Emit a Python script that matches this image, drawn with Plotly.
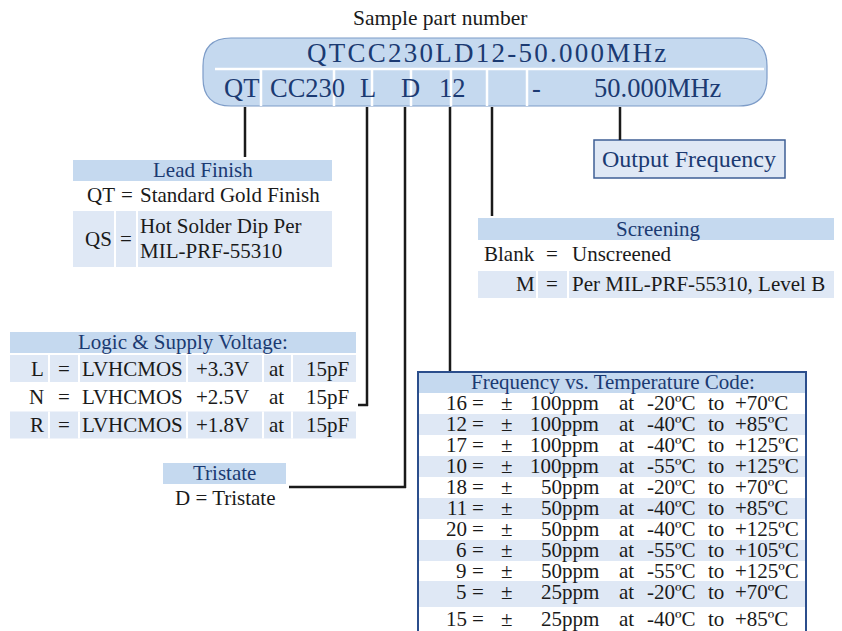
import plotly.graph_objects as go

# ---------------- data (texts) ----------------
title_text = "Sample part number"
part_number = "QTCC230LD12-50.000MHz"
part_segments = ["QT", "CC230", "L", "D", "12", "", "-", "50.000MHz"]
part_seg_x = [241, 307, 368, 410, 452, 0, 536, 658]

lead_codes = ["QT", "QS"]
lead_desc = [["Standard Gold Finish"], ["Hot Solder Dip Per", "MIL-PRF-55310"]]

screen_codes = ["Blank", "M"]
screen_desc = ["Unscreened", "Per MIL-PRF-55310, Level B"]

logic_codes = ["L", "N", "R"]
logic_type = ["LVHCMOS", "LVHCMOS", "LVHCMOS"]
logic_volt = ["+3.3V", "+2.5V", "+1.8V"]
logic_load = ["15pF", "15pF", "15pF"]

tri_codes = ["D"]
tri_desc = ["Tristate"]

freq_codes = ["16", "12", "17", "10", "18", "11", "20", "6", "9", "5", "15"]
freq_ppm = ["100ppm", "100ppm", "100ppm", "100ppm", "50ppm", "50ppm", "50ppm",
            "50ppm", "50ppm", "25ppm", "25ppm"]
freq_tmin = ["-20ºC", "-40ºC", "-40ºC", "-55ºC", "-20ºC", "-40ºC", "-40ºC",
             "-55ºC", "-55ºC", "-20ºC", "-40ºC"]
freq_tmax = ["+70ºC", "+85ºC", "+125ºC", "+125ºC", "+70ºC", "+85ºC", "+125ºC",
             "+105ºC", "+125ºC", "+70ºC", "+85ºC"]

# ---------------- style ----------------
FONT = "Liberation Serif, Times New Roman, serif"
NAVY = "#1b3a72"
INK = "#1a1a1a"
HEAD = "#c5d9ef"
ROW = "#dfe8f5"
W, H = 842, 631
OFF = 8  # page body margin compensation

shapes = []
ann = []


def rect(x0, y0, x1, y1, fill, line=None, lw=0, layer="below"):
    shapes.append(dict(type="rect", x0=x0, y0=y0, x1=x1, y1=y1, fillcolor=fill,
                       line=dict(color=line or fill, width=lw), layer=layer))


def seg(x0, y0, x1, y1, color=INK, width=2.5):
    shapes.append(dict(type="line", x0=x0, y0=y0, x1=x1, y1=y1,
                       line=dict(color=color, width=width), layer="above"))


def txt(x, y, s, size=21, color=INK, anchor="center"):
    ann.append(dict(x=x, y=y, text=s, showarrow=False, xanchor=anchor, yanchor="middle",
                    font=dict(family=FONT, size=size, color=color)))


# ---------------- top box ----------------
txt(440, 18, title_text, size=21.5)
x0, x1, y0, y1, r = 203, 767, 38, 106, 28
path = (f"M {x0+r},{y0} L {x1-r},{y0} Q {x1},{y0} {x1},{y0+r} L {x1},{y1-r} "
        f"Q {x1},{y1} {x1-r},{y1} L {x0+r},{y1} Q {x0},{y1} {x0},{y1-r} "
        f"L {x0},{y0+r} Q {x0},{y0} {x0+r},{y0} Z")
shapes.append(dict(type="path", path=path, fillcolor=HEAD,
                   line=dict(color="#7d9cc8", width=1.2), layer="below"))
spaced = "\u200a".join(part_number)
txt(486, 53, spaced, size=27, color=NAVY)
seg(215, 69, 764, 69, color="white", width=2.5)
for xs in [261, 334, 372, 411, 451, 487, 527]:
    seg(xs, 69, xs, 106, color="white", width=2.5)
for s, xs in zip(part_segments, part_seg_x):
    if s:
        txt(xs, 88, s, size=26.5, color=NAVY)

# ---------------- connectors ----------------
seg(245, 107, 245, 157)
seg(367, 107, 367, 406)
seg(358, 405, 368, 405)
seg(405, 107, 405, 488)
seg(289, 487, 406, 487)
seg(450, 107, 450, 372)
seg(492, 107, 492, 216)
seg(620, 107, 620, 140)

# ---------------- output frequency ----------------
rect(594, 140, 785, 178, ROW, line="#3f5f95", lw=1.5)
txt(689, 159, "Output Frequency", size=24, color=NAVY)

# ---------------- lead finish ----------------
rect(73, 160, 332, 181, HEAD)
txt(203, 170, "Lead Finish", color=NAVY)
txt(117, 195, lead_codes[0], anchor="right")
txt(127, 195, "=")
txt(138, 195, lead_desc[0][0], anchor="left")
rect(73, 211, 332, 267, ROW)
seg(115, 211, 115, 267, color="white", width=2)
seg(137, 211, 137, 267, color="white", width=2)
txt(114, 239, lead_codes[1], anchor="right")
txt(126, 239, "=")
txt(138, 226, lead_desc[1][0], anchor="left")
txt(138, 251, lead_desc[1][1], anchor="left")

# ---------------- screening ----------------
rect(478, 218, 838, 240, HEAD)
txt(658, 229, "Screening", color=NAVY)
for i, (c, d) in enumerate(zip(screen_codes, screen_desc)):
    yc = 254 + i * 30
    if i == 1:
        rect(478, 271, 838, 298, ROW)
        seg(537, 271, 537, 298, color="white", width=2)
        seg(568, 271, 568, 298, color="white", width=2)
    txt(537, yc, c, anchor="right")
    txt(552, yc, "=")
    txt(570, yc, d, anchor="left")

# ---------------- logic & supply ----------------
rect(10, 332, 356, 353, HEAD)
txt(183, 342, "Logic & Supply Voltage:", color=NAVY)
for i in range(len(logic_codes)):
    yt, yb = 355 + i * 28.3, 382 + i * 28.3
    yc = (yt + yb) / 2
    if i % 2 == 0:
        rect(10, yt, 356, yb, ROW)
        for xs in [49, 79, 187, 263, 292]:
            seg(xs, yt, xs, yb, color="white", width=2)
    txt(46, yc, logic_codes[i], anchor="right")
    txt(64, yc, "=")
    txt(80, yc, logic_type[i], anchor="left")
    txt(222, yc, logic_volt[i])
    txt(276, yc, "at")
    txt(327, yc, logic_load[i])

# ---------------- tristate ----------------
rect(163, 463, 286, 484, HEAD)
txt(224, 473, "Tristate", color=NAVY)
txt(225, 498, f"{tri_codes[0]} = {tri_desc[0]}")

# ---------------- frequency vs temperature ----------------
rect(419, 373, 806, 393, HEAD)
txt(613, 382, "Frequency vs. Temperature Code:", color=NAVY)
row_top = [393, 414, 435, 456, 477, 498, 519, 540, 561, 581, 607]
row_bot = [414, 435, 456, 477, 498, 519, 540, 561, 581, 607, 640]
row_yc = [403, 424, 445, 466, 487, 508, 529, 550, 571, 592, 619]
for i in range(len(freq_codes)):
    yc = row_yc[i]
    if i % 2 == 1:
        rect(419, row_top[i], 806, row_bot[i], ROW)
    txt(469, yc, freq_codes[i], anchor="right")
    txt(478, yc, "=")
    txt(507, yc, "±")
    txt(601, yc, freq_ppm[i], anchor="right")
    txt(626, yc, "at")
    txt(671, yc, freq_tmin[i])
    txt(716, yc, "to")
    txt(733, yc, freq_tmax[i], anchor="left")
shapes.append(dict(type="rect", x0=418, y0=372, x1=806, y1=645, fillcolor="rgba(0,0,0,0)",
                   line=dict(color="#2b4e8c", width=2), layer="above"))

fig = go.Figure()
fig.update_layout(
    width=W, height=H, margin=dict(l=0, r=0, t=0, b=0),
    paper_bgcolor="white", plot_bgcolor="white",
    xaxis=dict(range=[OFF, W + OFF], visible=False, fixedrange=True),
    yaxis=dict(range=[H + OFF, OFF], visible=False, fixedrange=True),
    shapes=shapes, annotations=ann, showlegend=False,
)
fig.write_html("out.html")
